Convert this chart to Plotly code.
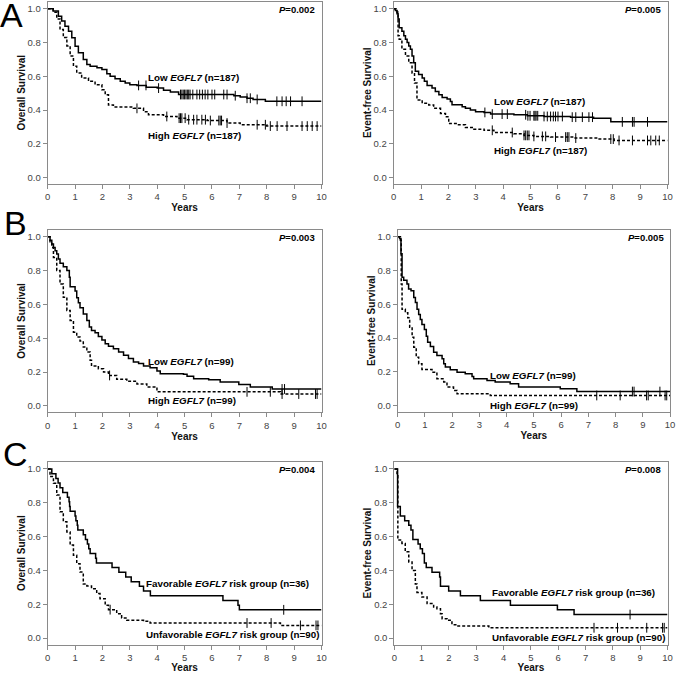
import numpy as np
import plotly.graph_objects as go

# ---------------- DATA ----------------
# Panel A, overall survival
A_os_low_t = [0, 0.2, 0.39, 0.51, 0.63, 0.76, 0.88, 1.0, 1.12, 1.3, 1.43, 1.55, 1.8, 1.98, 2.16, 2.28, 2.46, 2.65, 2.83, 3.0, 3.26, 3.6, 4.0, 4.23, 4.48, 4.78, 6.8, 7.03, 7.28, 7.5, 7.95]
A_os_low_s = [1.0, 0.986, 0.956, 0.927, 0.897, 0.867, 0.828, 0.778, 0.739, 0.70, 0.67, 0.66, 0.65, 0.64, 0.615, 0.60, 0.585, 0.57, 0.56, 0.55, 0.546, 0.535, 0.53, 0.517, 0.507, 0.492, 0.485, 0.477, 0.47, 0.463, 0.452]
A_os_low_c = [3.32, 3.59, 4.05, 4.85, 4.9, 4.95, 5.0, 5.05, 5.1, 5.15, 5.2, 5.3, 5.45, 5.55, 5.65, 5.75, 5.85, 6.0, 6.1, 6.43, 6.55, 6.85, 7.28, 7.4, 7.65, 8.37, 8.56, 8.71, 8.87, 9.29]
A_os_high_t = [0, 0.2, 0.33, 0.45, 0.57, 0.7, 0.82, 0.94, 1.06, 1.24, 1.49, 1.73, 1.98, 2.1, 2.22, 2.4, 3.13, 3.5, 3.68, 4.23, 4.72, 5.09, 5.82, 6.55, 7.03, 8.0]
A_os_high_s = [1.0, 0.98, 0.94, 0.877, 0.83, 0.78, 0.72, 0.66, 0.62, 0.59, 0.57, 0.55, 0.52, 0.49, 0.43, 0.418, 0.41, 0.39, 0.372, 0.362, 0.352, 0.343, 0.338, 0.323, 0.313, 0.305]
A_os_high_c = [3.26, 4.35, 4.8, 4.85, 4.9, 5.02, 5.15, 5.33, 5.45, 5.63, 5.76, 5.94, 6.25, 6.3, 6.35, 6.55, 7.65, 7.95, 8.13, 8.38, 8.74, 9.29, 9.48, 9.66, 9.84]

# Panel A, event-free survival
A_efs_low_t = [0, 0.06, 0.12, 0.16, 0.2, 0.3, 0.37, 0.43, 0.49, 0.55, 0.61, 0.67, 0.73, 0.79, 0.91, 1.04, 1.12, 1.22, 1.4, 1.52, 1.65, 1.77, 1.95, 2.07, 2.13, 2.5, 2.62, 2.8, 2.99, 3.3, 3.54, 4.39, 4.88, 5.49, 6.46, 7.3, 7.93]
A_efs_low_s = [1.0, 0.99, 0.97, 0.94, 0.887, 0.867, 0.84, 0.82, 0.80, 0.78, 0.76, 0.72, 0.68, 0.63, 0.61, 0.59, 0.57, 0.545, 0.53, 0.51, 0.49, 0.475, 0.465, 0.45, 0.432, 0.42, 0.41, 0.40, 0.39, 0.386, 0.376, 0.372, 0.366, 0.362, 0.358, 0.352, 0.33]
A_efs_low_c = [3.33, 3.6, 3.96, 4.15, 4.82, 4.9, 4.98, 5.12, 5.16, 5.2, 5.26, 5.49, 5.61, 5.73, 5.83, 5.91, 6.0, 6.16, 6.52, 6.65, 6.89, 7.13, 7.26, 8.35, 8.72, 8.78, 9.27]
A_efs_high_t = [0, 0.12, 0.16, 0.2, 0.3, 0.43, 0.55, 0.67, 0.76, 0.85, 1.04, 1.28, 1.46, 1.71, 1.89, 2.01, 2.32, 2.62, 2.93, 3.3, 3.66, 4.39, 4.76, 5.12, 5.73, 6.59, 7.44, 8.05]
A_efs_high_s = [1.0, 0.98, 0.84, 0.82, 0.76, 0.72, 0.68, 0.62, 0.56, 0.46, 0.44, 0.43, 0.41, 0.38, 0.36, 0.32, 0.313, 0.297, 0.287, 0.28, 0.267, 0.26, 0.25, 0.244, 0.24, 0.234, 0.228, 0.22]
A_efs_high_c = [3.6, 4.33, 4.76, 4.82, 4.88, 4.94, 5.12, 5.43, 5.55, 5.91, 6.28, 6.34, 6.4, 6.65, 7.93, 8.02, 8.23, 8.72, 9.27, 9.39, 9.57, 9.7]

# Panel B, overall survival
B_os_low_t = [0, 0.085, 0.15, 0.21, 0.27, 0.33, 0.39, 0.45, 0.57, 0.7, 0.79, 0.82, 1.0, 1.06, 1.12, 1.18, 1.3, 1.43, 1.52, 1.6, 1.73, 1.85, 1.98, 2.1, 2.22, 2.4, 2.59, 2.77, 2.95, 3.13, 3.32, 3.5, 3.74, 3.99, 4.11, 4.96, 5.09, 5.33, 5.88, 6.3, 6.98, 7.4, 8.2]
B_os_low_s = [1.0, 0.98, 0.957, 0.937, 0.917, 0.898, 0.868, 0.843, 0.823, 0.80, 0.76, 0.705, 0.68, 0.64, 0.61, 0.58, 0.544, 0.505, 0.466, 0.446, 0.432, 0.41, 0.39, 0.367, 0.352, 0.338, 0.318, 0.30, 0.28, 0.26, 0.25, 0.236, 0.226, 0.206, 0.19, 0.187, 0.175, 0.16, 0.155, 0.141, 0.126, 0.112, 0.10]
B_os_low_c = [8.56, 8.65]
B_os_high_t = [0, 0.085, 0.15, 0.21, 0.33, 0.45, 0.57, 0.7, 0.82, 0.94, 1.06, 1.18, 1.3, 1.43, 1.55, 1.6, 1.85, 2.04, 2.22, 2.52, 2.89, 3.26, 3.62, 3.99, 8.5]
B_os_high_s = [1.0, 0.97, 0.937, 0.878, 0.80, 0.72, 0.642, 0.564, 0.505, 0.436, 0.407, 0.383, 0.348, 0.318, 0.27, 0.236, 0.22, 0.20, 0.18, 0.157, 0.145, 0.13, 0.112, 0.083, 0.07]
B_os_high_c = [2.26, 7.28, 8.13, 8.56, 9.17, 9.78, 9.84]

# Panel B, event-free survival
B_efs_low_t = [0, 0.07, 0.12, 0.16, 0.22, 0.34, 0.4, 0.49, 0.59, 0.65, 0.71, 0.77, 0.83, 0.89, 0.98, 1.05, 1.1, 1.2, 1.32, 1.44, 1.63, 1.69, 1.75, 1.93, 2.18, 2.48, 2.73, 2.79, 3.28, 3.58, 4.13, 4.44, 5.97, 6.58]
B_efs_low_s = [1.0, 0.99, 0.90, 0.76, 0.743, 0.72, 0.69, 0.68, 0.64, 0.61, 0.57, 0.54, 0.51, 0.48, 0.45, 0.41, 0.375, 0.35, 0.316, 0.297, 0.277, 0.248, 0.228, 0.212, 0.198, 0.189, 0.173, 0.159, 0.149, 0.139, 0.13, 0.11, 0.10, 0.083]
B_efs_low_c = [8.62, 8.68, 9.63]
B_efs_high_t = [0, 0.1, 0.13, 0.16, 0.28, 0.37, 0.44, 0.53, 0.59, 0.68, 0.77, 0.89, 1.26, 1.44, 1.69, 1.81, 2.05, 2.18, 3.4]
B_efs_high_s = [1.0, 0.98, 0.72, 0.57, 0.55, 0.52, 0.464, 0.405, 0.346, 0.287, 0.248, 0.214, 0.198, 0.159, 0.14, 0.11, 0.09, 0.07, 0.06]
B_efs_high_c = [7.31, 8.17, 9.14, 9.2, 9.82, 9.88]

# Panel C, overall survival
C_os_fav_t = [0, 0.15, 0.3, 0.38, 0.45, 0.55, 0.72, 0.78, 0.8, 0.82, 1.0, 1.03, 1.08, 1.1, 1.3, 1.38, 1.45, 1.5, 1.55, 1.75, 1.78, 2.35, 2.6, 2.85, 3.05, 3.35, 3.5, 3.75, 6.4, 6.95, 7.0]
C_os_fav_s = [1.0, 0.972, 0.944, 0.917, 0.889, 0.861, 0.833, 0.806, 0.778, 0.75, 0.722, 0.694, 0.667, 0.639, 0.611, 0.583, 0.556, 0.528, 0.5, 0.472, 0.444, 0.417, 0.389, 0.361, 0.333, 0.306, 0.278, 0.25, 0.222, 0.194, 0.167]
C_os_fav_c = [8.62]
C_os_unf_t = [0, 0.085, 0.21, 0.33, 0.45, 0.57, 0.7, 0.82, 0.94, 1.06, 1.18, 1.3, 1.43, 1.6, 1.79, 1.91, 2.1, 2.22, 2.52, 2.7, 2.89, 3.5, 3.74, 8.5]
C_os_unf_s = [1.0, 0.955, 0.915, 0.846, 0.747, 0.688, 0.628, 0.55, 0.49, 0.44, 0.39, 0.32, 0.308, 0.292, 0.263, 0.233, 0.194, 0.168, 0.144, 0.119, 0.105, 0.099, 0.089, 0.075]
C_os_unf_c = [2.28, 7.28, 8.16, 9.23, 9.8, 9.87]

# Panel C, event-free survival
C_efs_fav_t = [0, 0.12, 0.22, 0.38, 0.53, 0.61, 0.68, 0.87, 0.95, 1.03, 1.1, 1.17, 1.38, 1.66, 1.69, 1.99, 2.42, 3.15, 4.25, 5.97, 6.58]
C_efs_fav_s = [1.0, 0.778, 0.722, 0.694, 0.667, 0.639, 0.583, 0.556, 0.528, 0.5, 0.444, 0.417, 0.389, 0.361, 0.306, 0.278, 0.25, 0.222, 0.194, 0.167, 0.139]
C_efs_fav_c = [8.63]
C_efs_unf_t = [0, 0.1, 0.13, 0.28, 0.4, 0.53, 0.65, 0.77, 0.83, 1.01, 1.2, 1.44, 1.56, 1.69, 1.75, 1.93, 2.11, 2.3, 3.46]
C_efs_unf_s = [1.0, 0.96, 0.58, 0.56, 0.51, 0.45, 0.40, 0.32, 0.27, 0.243, 0.204, 0.184, 0.174, 0.144, 0.115, 0.105, 0.079, 0.071, 0.061]
C_efs_unf_c = [7.31, 8.17, 9.24, 9.82, 9.88]

y_titles = ["Overall Survival", "Event-free Survival"]
x_title = "Years"
x_ticks = list(range(0, 11))
y_ticks = [0.0, 0.2, 0.4, 0.6, 0.8, 1.0]
p_values = ["0.002", "0.005", "0.003", "0.005", "0.004", "0.008"]
panel_letters = ["A", "B", "C"]
labels_AB = [("Low", "187"), ("High", "187"), ("Low", "99"), ("High", "99")]
labels_C = [("Favorable", "36"), ("Unfavorable", "90")]

# ---------------- LAYOUT ----------------
W, H = 677, 673
FONT = "Arial, 'Liberation Sans', sans-serif"

# (x0,x1,ytop,ybottom) pixel boxes of each panel
boxes = [
    (47.7, 321.5, 1.5, 184.0),
    (393.7, 667.5, 1.5, 184.0),
    (47.7, 321.5, 229.5, 412.3),
    (397.7, 670.0, 229.5, 412.0),
    (47.7, 321.5, 461.7, 644.5),
    (394.3, 667.5, 461.7, 644.5),
]
YR = [-0.038, 1.043]

panels = [
    (A_os_low_t, A_os_low_s, A_os_low_c, A_os_high_t, A_os_high_s, A_os_high_c),
    (A_efs_low_t, A_efs_low_s, A_efs_low_c, A_efs_high_t, A_efs_high_s, A_efs_high_c),
    (B_os_low_t, B_os_low_s, B_os_low_c, B_os_high_t, B_os_high_s, B_os_high_c),
    (B_efs_low_t, B_efs_low_s, B_efs_low_c, B_efs_high_t, B_efs_high_s, B_efs_high_c),
    (C_os_fav_t, C_os_fav_s, C_os_fav_c, C_os_unf_t, C_os_unf_s, C_os_unf_c),
    (C_efs_fav_t, C_efs_fav_s, C_efs_fav_c, C_efs_unf_t, C_efs_unf_s, C_efs_unf_c),
]

# label positions (x data, y data) for [top label, bottom label]
label_pos = [
    [(3.59, 0.59), (3.59, 0.248)],
    [(3.6, 0.448), (3.6, 0.16)],
    [(3.59, 0.263), (3.59, 0.033)],
    [(3.3, 0.179), (3.3, 0.0)],
    [(3.5, 0.322), (3.5, 0.02)],
    [(3.5, 0.267), (3.5, 0.006)],
]

fig = go.Figure()


def step_value(ts, ss, c):
    i = int(np.searchsorted(np.array(ts), c, side="right")) - 1
    return ss[max(i, 0)]


annotations = []
for k, (box, pdata) in enumerate(zip(boxes, panels)):
    x0, x1, yt, yb = box
    ax = "" if k == 0 else str(k + 1)
    xa, ya = "x" + ax, "y" + ax
    fig.layout["xaxis" + ax] = dict(
        domain=[x0 / W, x1 / W], range=[0, 10], anchor=ya, automargin=False,
        tickvals=x_ticks, ticks="outside", ticklen=4, tickcolor="#8a8a8a",
        showline=True, linecolor="#8a8a8a", linewidth=1, mirror=True,
        showgrid=False, zeroline=False,
        tickfont=dict(family=FONT, size=9.5, color="#444"),
        title=dict(text="<b>%s</b>" % x_title, standoff=2,
                   font=dict(family=FONT, size=10, color="#111")),
    )
    fig.layout["yaxis" + ax] = dict(
        domain=[1 - yb / H, 1 - yt / H], range=YR, anchor=xa, automargin=False,
        tickvals=y_ticks, tickformat=".1f", ticks="outside", ticklen=4,
        tickcolor="#8a8a8a",
        showline=True, linecolor="#8a8a8a", linewidth=1, mirror=True,
        showgrid=False, zeroline=False,
        tickfont=dict(family=FONT, size=9.5, color="#444"),
        title=dict(text="<b>%s</b>" % y_titles[k % 2], standoff=0,
                   font=dict(family=FONT, size=10, color="#111")),
    )
    t1, s1, c1, t2, s2, c2 = pdata
    for (ts, ss, cs, dash) in [(t2, s2, c2, "3px,2px"), (t1, s1, c1, "solid")]:
        xs = list(ts) + [10]
        ys = list(ss) + [ss[-1]]
        fig.add_trace(go.Scatter(
            x=xs, y=ys, mode="lines", line=dict(color="black", width=1.5, dash=dash, shape="hv"),
            xaxis=xa, yaxis=ya, showlegend=False, hoverinfo="skip"))
        cy = [step_value(ts, ss, c) for c in cs]
        fig.add_trace(go.Scatter(
            x=cs, y=cy, mode="markers",
            marker=dict(symbol="line-ns-open", size=7, color="black",
                        line=dict(color="black", width=1)),
            xaxis=xa, yaxis=ya, showlegend=False, hoverinfo="skip"))
    # P value
    annotations.append(dict(
        x=9.85, y=0.995, xref=xa, yref=ya, xanchor="right", yanchor="middle",
        text="<b><i>P</i>=%s</b>" % p_values[k], showarrow=False,
        font=dict(family=FONT, size=9.5, color="black")))
    # group labels
    if k < 4:
        grp = labels_AB[(k // 2) * 2:(k // 2) * 2 + 2]
        texts = ["<b>%s <i>EGFL7</i> (n=%s)</b>" % g for g in grp]
    else:
        texts = ["<b>%s <i>EGFL7</i> risk group (n=%s)</b>" % g for g in labels_C]
    for (lx, ly), txt in zip(label_pos[k], texts):
        annotations.append(dict(
            x=lx, y=ly, xref=xa, yref=ya, xanchor="left", yanchor="middle",
            text=txt, showarrow=False,
            font=dict(family=FONT, size=9.8, color="black")))

# panel letters
for letter, cy, lx in zip(panel_letters, [15.0, 223.0, 453.5], [-2, 2, 1]):
    annotations.append(dict(
        x=lx / W, y=1 - cy / H, xref="paper", yref="paper",
        xanchor="left", yanchor="middle", text=letter, showarrow=False,
        font=dict(family=FONT, size=34, color="black")))

fig.update_layout(
    width=W, height=H, margin=dict(l=0, r=0, t=0, b=0),
    paper_bgcolor="white", plot_bgcolor="white",
    annotations=annotations, showlegend=False,
)

fig.write_html("out.html", config={"displayModeBar": False},
               post_script="document.body.style.margin='0';document.body.style.padding='0';document.body.style.overflow='hidden';")
